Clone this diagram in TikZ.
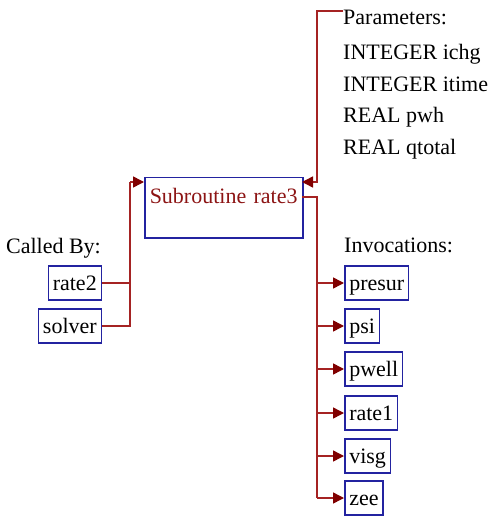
\documentclass[tikz,border=0pt]{standalone}
\usepackage{fontspec}
\setmainfont{Liberation Serif}
\usetikzlibrary{arrows.meta}
\definecolor{lnred}{RGB}{165,35,35}
\definecolor{tipred}{RGB}{128,0,0}
\definecolor{boxblue}{RGB}{35,35,160}
\definecolor{txtred}{RGB}{140,20,20}
\begin{document}
\begin{tikzpicture}[x=1pt,y=-1pt,
  every node/.style={font=\fontsize{22}{26}\selectfont},
  fbox/.style={draw=boxblue, line width=1.5pt, inner xsep=4.5pt, inner ysep=0pt, text height=24pt, text depth=10pt},
  conn/.style={draw=lnred, line width=1.5pt},
  arr/.style={conn, -{Triangle[length=11pt,width=11pt,fill=tipred,color=tipred]}},
  lbl/.style={inner sep=0pt}]
\useasboundingbox (0,0) rectangle (489,521);
% main box
\node[draw=boxblue, line width=1.5pt, anchor=north west, text width=148pt, align=left,
      inner xsep=5pt, inner ysep=0pt, text height=26pt, text depth=34pt, text=txtred] (main) at (144,177) {Subroutine rate3};
\coordinate (mainIn) at (144,182);
\coordinate (mainPin) at (302,182);
\coordinate (mainOut) at (302,197);
% called by
\node[lbl, anchor=base east] (cb) at (101,253) {Called By:};
\node[fbox, anchor=east] (rate2) at (102,283) {rate2};
\node[fbox, anchor=east] (solver) at (102,326) {solver};
\coordinate (jL) at (130,182);
\draw[conn] (rate2.east) -- (130,283);
\draw[conn] (solver.east) -| (jL);
\draw[arr] (jL) -- (mainIn);
% parameters
\node[lbl, anchor=base west] (par) at (343,25) {Parameters:};
\node[lbl, anchor=base west] (p1) at (343,60) {INTEGER ichg};
\node[lbl, anchor=base west] (p2) at (343,92) {INTEGER itime};
\node[lbl, anchor=base west] (p3) at (343,123) {REAL pwh};
\node[lbl, anchor=base west] (p4) at (343,155) {REAL qtotal};
\coordinate (parTop) at (343,11);
\draw[arr] (parTop) -- (317,11) -- (317,182) -- (mainPin);
% invocations
\node[lbl, anchor=base west] (inv) at (344,252) {Invocations:};
\node[fbox, anchor=west] (presur) at (344,283) {presur};
\node[fbox, anchor=west] (psi) at (344,326) {psi};
\node[fbox, anchor=west] (pwell) at (344,369) {pwell};
\node[fbox, anchor=west] (rate1) at (344,413) {rate1};
\node[fbox, anchor=west] (visg) at (344,456) {visg};
\node[fbox, anchor=west] (zee) at (344,498) {zee};
\coordinate (jR) at (317,197);
\draw[conn] (mainOut) -- (jR) -- (317,498);
\foreach \n in {presur,psi,pwell,rate1,visg,zee}{
  \draw[arr] (jR |- \n.west) -- (\n.west);
}
\end{tikzpicture}
\end{document}
